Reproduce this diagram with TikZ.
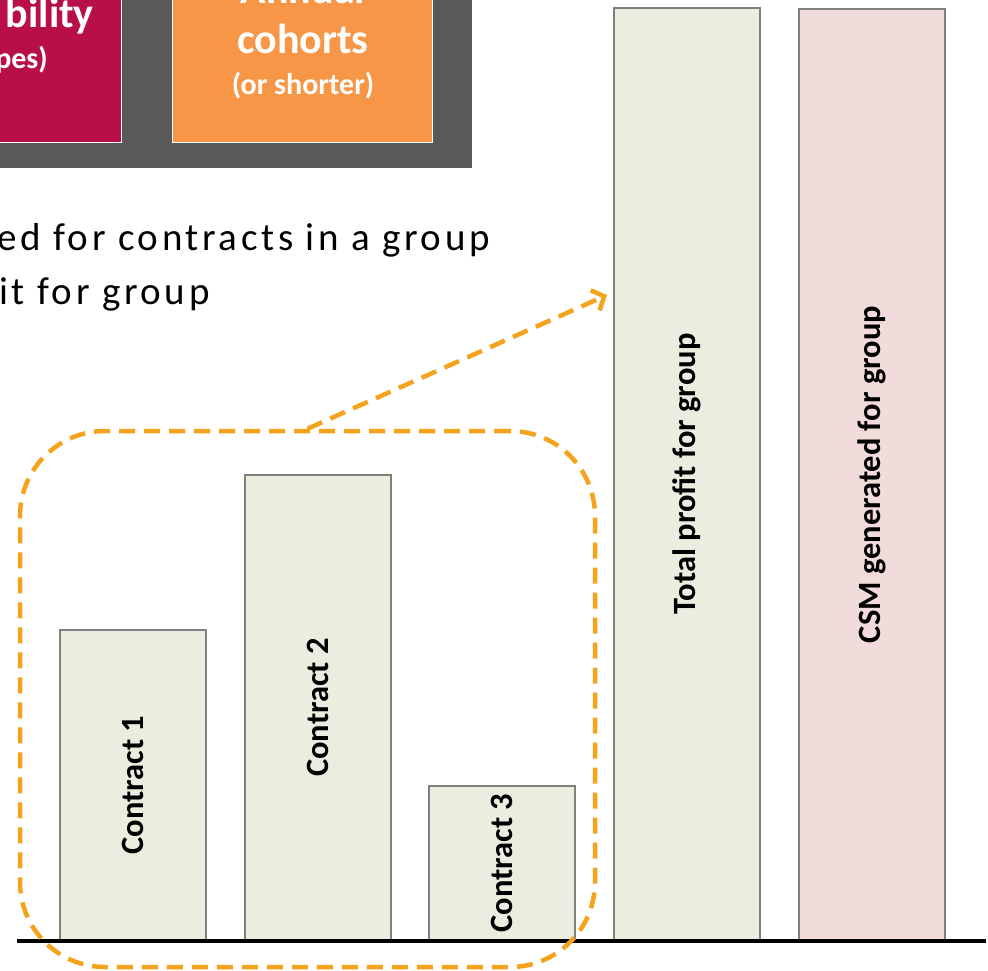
\documentclass[tikz,border=0pt]{standalone}
\usepackage{fontspec}
\setmainfont{Carlito}
\newfontfamily\headfont[LetterSpace=9.3]{Carlito}
\usetikzlibrary{arrows.meta}
\definecolor{darkbg}{HTML}{595959}
\definecolor{magbox}{HTML}{B90F48}
\definecolor{orbox}{HTML}{F79646}
\definecolor{barGreen}{HTML}{EBEEDF}
\definecolor{barPink}{HTML}{F2DCDB}
\definecolor{barEdge}{HTML}{808080}
\definecolor{dashOr}{HTML}{F5A21D}
\tikzset{
  catbox/.style={draw=white, line width=1.2pt, inner sep=0pt},
  bartext/.style={font=\fontsize{32.5}{36}\selectfont\bfseries, text=black},
  barbox/.style={draw=barEdge, line width=1.5pt, fill=barGreen, rotate=90, inner sep=0pt, bartext},
  groupline/.style={draw=dashOr, line width=4.5pt, dash pattern=on 16pt off 9pt},
  headtext/.style={font=\headfont\fontsize{39}{46}\selectfont, anchor=base west, inner sep=0pt},
  boxbig/.style={font=\fontsize{42}{50}\selectfont\bfseries, text=white, inner sep=0pt},
  boxsmall/.style={font=\fontsize{30}{36}\selectfont\bfseries, text=white, inner sep=0pt}
}
\begin{document}
\begin{tikzpicture}[x=1pt,y=-1pt]
\clip (0,0) rectangle (988,970);
\fill[white] (0,0) rectangle (988,970);
% top category panel
\node[fill=darkbg, minimum width=572pt, minimum height=268pt, inner sep=0pt, anchor=south east] (panel) at (472,168) {};
\node[catbox, fill=magbox, minimum width=262pt, minimum height=243pt, anchor=south east] (prof) at (122,143) {};
\node[catbox, fill=orbox, minimum width=260pt, minimum height=243pt, anchor=south east] (coh) at (433,143) {};
\node[boxbig, anchor=base east] (profA) at (94,27) {bility};
\node[boxsmall, anchor=base east] (profB) at (48,68) {pes)};
\node[boxbig, anchor=base] (cohA) at (303,3) {Annual};
\node[boxbig, anchor=base] (cohB) at (303,53) {cohorts};
\node[boxsmall, anchor=base] (cohC) at (303,94) {(or shorter)};
% heading text
\node[headtext] (h1) at (-3,250) {ed for contracts in a group};
\node[headtext] (h2) at (-1,304) {it for group};
% bars
\node[barbox, minimum width=310pt, minimum height=146pt] (c1) at (133,785) {Contract 1};
\node[barbox, minimum width=465pt, minimum height=146pt] (c2) at (318,707.5) {Contract 2};
\node[barbox, minimum width=154pt, minimum height=146pt] (c3) at (502,863) {Contract 3};
\node[barbox, minimum width=932pt, minimum height=146pt] (tot) at (687,474) {Total profit for group};
\node[barbox, fill=barPink, minimum width=931pt, minimum height=146pt] (csm) at (872,474.5) {CSM generated for group};
% axis
\coordinate (axL) at (17,941);
\coordinate (axR) at (986,941);
\draw[line width=3.5pt] (axL) -- (axR);
% dashed group outline
\node[groupline, rounded corners=85pt, minimum width=575pt, minimum height=536pt, inner sep=0pt] (grp) at (307.5,699) {};
\coordinate (tip) at (607,295);
\draw[groupline, -{Straight Barb[length=10pt,width=22pt]}] (grp.north) -- (tip);
\end{tikzpicture}
\end{document}
